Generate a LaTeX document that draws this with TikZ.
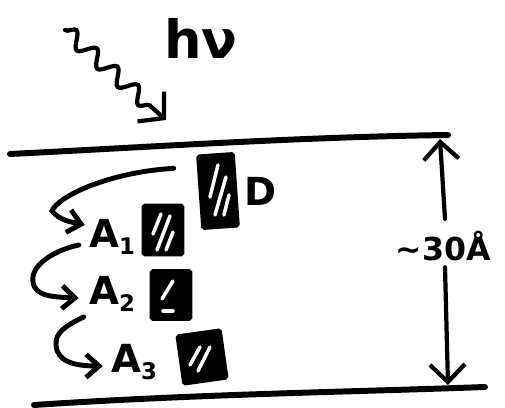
\documentclass[tikz,border=0pt]{standalone}
\usepackage{fontspec}
\setmainfont{DejaVu Sans}
\usetikzlibrary{arrows.meta,decorations.pathmorphing}
\begin{document}
\begin{tikzpicture}[x=0.02cm,y=-0.02cm,
  lbl/.style={font=\bfseries\fontsize{22}{22}\selectfont, inner sep=0pt},
  hbox/.style={fill=black, draw=black, line width=1.5pt, inner sep=0pt, rounded corners=1pt},
  conn/.style={line width=2.8pt, line cap=round, -{Straight Barb[length=2.6mm,width=4.6mm]}},
  wall/.style={line width=3.4pt, line cap=round},
  dim/.style={line width=2.4pt, line cap=round, -{Straight Barb[length=3.5mm,width=7mm]}},
  hatch/.style={white, line width=2pt, line cap=round}
]
\useasboundingbox (0,0) rectangle (505,408);
\newcommand{\subs}[1]{\raisebox{-0.35ex}{\fontsize{13}{13}\selectfont #1}}

% walls
\coordinate (tl) at (10,154);
\coordinate (tr) at (448,135);
\coordinate (bl) at (34,405);
\coordinate (br) at (485,387);
\draw[wall] (tl) .. controls (150,147) and (300,137) .. (tr);
\draw[wall] (bl) .. controls (200,394) and (350,392) .. (br);

% photon
\coordinate (w0) at (65,30);
\coordinate (w1) at (166,120);
\draw[line width=2.4pt, line cap=round, -{Straight Barb[length=3.5mm,width=8mm]},
      decorate, decoration={snake, amplitude=0.15cm, segment length=0.55cm, post length=4mm}]
      (w0) -- (w1);
\node[font=\bfseries\fontsize{30}{30}\selectfont, inner sep=0pt] (hv) at (201,38) {hν};

% boxes
\node[hbox, minimum width=0.72cm, minimum height=1.46cm, rotate=4] (Dbox) at (218,191) {};
\node[hbox, minimum width=0.8cm, minimum height=1.0cm] (B1) at (163,230) {};
\node[hbox, minimum width=0.8cm, minimum height=0.98cm] (B2) at (171,295) {};
\node[hbox, minimum width=0.88cm, minimum height=0.98cm, rotate=8] (B3) at (202,357) {};

% hatching
\draw[hatch] ([shift={(-8,6)}]Dbox.center) -- ([shift={(0,-26)}]Dbox.center);
\draw[hatch] ([shift={(-3,24)}]Dbox.center) -- ([shift={(8,-14)}]Dbox.center);
\draw[hatch] ([shift={(6,24)}]Dbox.center) -- ([shift={(11,4)}]Dbox.center);
\draw[hatch] ([shift={(-10,4)}]B1.center) -- ([shift={(-2,-16)}]B1.center);
\draw[hatch] ([shift={(-6,20)}]B1.center) -- ([shift={(7,-14)}]B1.center);
\draw[hatch] ([shift={(3,20)}]B1.center) -- ([shift={(10,2)}]B1.center);
\draw[hatch] ([shift={(-9,4)}]B2.center) -- ([shift={(2,-14)}]B2.center);
\draw[hatch] ([shift={(-8,16)}]B2.center) -- ([shift={(2,16)}]B2.center);
\draw[hatch] ([shift={(-12,8)}]B3.center) -- ([shift={(-2,-10)}]B3.center);
\draw[hatch] ([shift={(-4,14)}]B3.center) -- ([shift={(8,-10)}]B3.center);

% labels
\node[lbl] (D) at (261,191) {D};
\node[lbl] (A1) at (112,237) {A\subs{1}};
\node[lbl] (A2) at (112,294) {A\subs{2}};
\node[lbl] (A3) at (134,362) {A\subs{3}};

% transfer arrows
\draw[conn] ([shift={(-25,-24)}]Dbox.west) .. controls (110,172) and (58,196) .. (52,211)
  .. controls (60,221) and (72,222) .. ([shift={(-4,-12)}]A1.west);
\draw[conn] ([shift={(-10,8)}]A1.west) .. controls (55,250) and (30,265) .. (33,282)
  .. controls (35,297) and (55,297) .. ([shift={(-10,4)}]A2.west);
\draw[conn] ([shift={(-5,23)}]A2.west) .. controls (65,326) and (55,333) .. (56,345)
  .. controls (57,362) and (75,366) .. ([shift={(-8,4)}]A3.west);

% thickness
\node[font=\bfseries\fontsize{18}{18}\selectfont, inner sep=0pt] (dl) at (443,246) {∼30Å};
\coordinate (dtop) at (440,139);
\coordinate (dbot) at (448,385);
\draw[dim] ([shift={(2,-12)}]dl.north) -- (dtop);
\draw[dim] ([shift={(2,6)}]dl.south) -- (dbot);
\end{tikzpicture}
\end{document}
